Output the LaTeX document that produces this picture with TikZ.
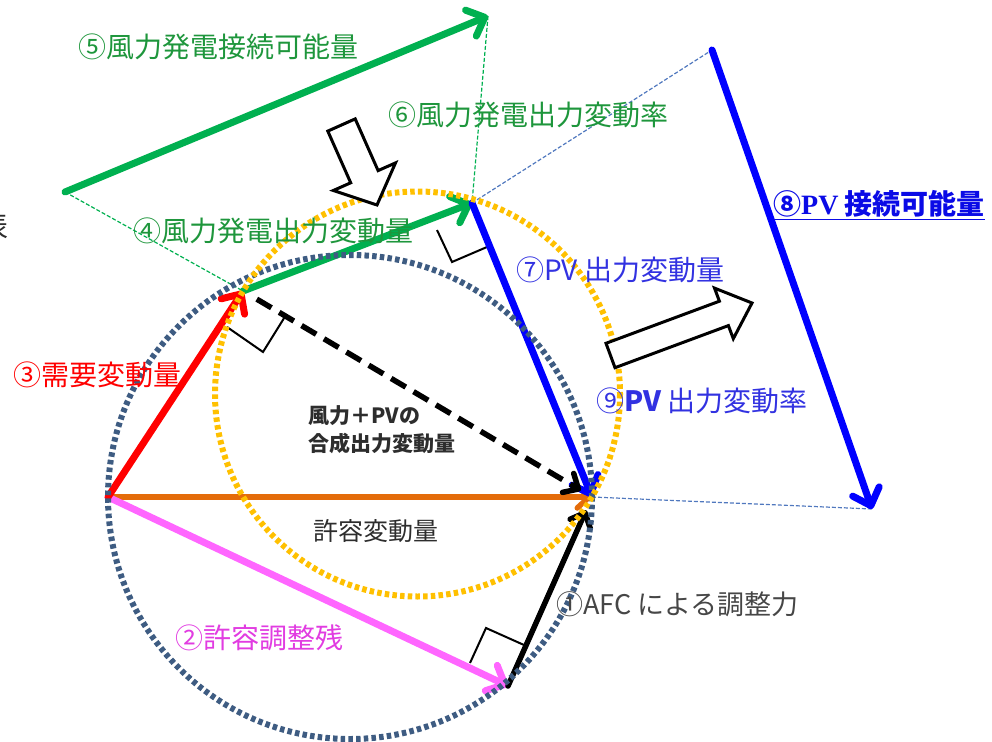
\documentclass[tikz,border=0pt]{standalone}
\usepackage{fontspec}
\setmainfont{Noto Sans CJK JP}
\newfontfamily\tms{Liberation Serif}
\usetikzlibrary{arrows.meta,calc}
\definecolor{garrow}{RGB}{0,176,80}
\definecolor{gtext}{RGB}{30,150,60}
\definecolor{bline}{RGB}{0,0,255}
\definecolor{btext}{RGB}{50,50,225}
\definecolor{bbold}{RGB}{10,10,230}
\definecolor{orng}{RGB}{228,108,10}
\definecolor{pnk}{RGB}{255,102,255}
\definecolor{mtext}{RGB}{225,60,225}
\definecolor{slate}{RGB}{62,92,130}
\definecolor{ylw}{RGB}{255,192,0}
\definecolor{thinb}{RGB}{80,120,190}
\definecolor{dgray}{RGB}{45,45,45}
\definecolor{mgray}{RGB}{70,70,70}
\begin{document}
\begin{tikzpicture}[x=1pt,y=-1pt,
  vec/.style={line width=7pt,line cap=round,-{Straight Barb[round,length=15pt,width=28pt]}},
  thinvec/.style={line width=5.5pt,line cap=round,-{Straight Barb[round,length=12pt,width=22pt]}},
  guide/.style={line width=1.2pt,dash pattern=on 4pt off 2pt},
  dotcirc/.style={line width=6pt,dash pattern=on 4.5pt off 3.2pt},
  rmark/.style={line width=2pt,black,line join=miter},
  blockarrow/.style={line width=3pt,black,fill=white,line join=miter},
  txt/.style={inner sep=0pt,anchor=west,font=\fontsize{28}{34}\selectfont}]
\useasboundingbox (0,0) rectangle (992,741);

% key points
\coordinate (O) at (108,497);
\coordinate (E) at (592,497);
\coordinate (R) at (243,291);
\coordinate (W) at (472,203);
\coordinate (P) at (508,686);
\coordinate (G1) at (65,192);
\coordinate (G2) at (488,16);
\coordinate (B1) at (712,50);
\coordinate (B2) at (872,509);
\coordinate (Cd) at (350,497);
\coordinate (Cy) at (417.5,394);

% thin guide lines
\draw[guide,garrow] (G1) -- (R);
\draw[guide,garrow] (G2) -- (W);
\draw[guide,thinb] (W) -- (B1);
\draw[guide,thinb] (E) -- (B2);

% right angle marks
\draw[rmark] (437,230) -- (452,262) -- (487,247);
\draw[rmark] (227,327) -- (263,352) -- (286,315);
\draw[rmark] (470,663) -- (486,628) -- (524,645);

% vectors
\draw[vec,garrow] (G1) -- (G2);
\draw[vec,bline] (B1) -- (B2);
\draw[thinvec,orng] (O) -- (E);
\draw[vec,pnk] (O) -- (P);
\draw[thinvec,black] (P) -- ($(P)!0.93!(E)$);
\draw[vec,red] (O) -- (R);
\draw[vec,garrow] (R) -- (W);
\draw[vec,bline] (W) -- (E);
\draw[line width=5.5pt,black,dash pattern=on 17pt off 9pt,-{Straight Barb[round,length=12pt,width=22pt]}]
  ($(R)!16pt!(E)$) -- ($(E)!13pt!(R)$);

% dotted circles
\draw[dotcirc,slate] (Cd) circle[radius=242];
\draw[dotcirc,ylw] (Cy) circle[radius=202.5];

% block arrows
\draw[blockarrow] (327.8,131.1) -- (350.7,182.8) -- (333.3,190.5) -- (377,205)
  -- (395.5,162.9) -- (378.1,170.6) -- (355.2,118.9) -- cycle;
\draw[blockarrow] (606,343.3) -- (719.4,301.2) -- (714.5,288.1) -- (752,303)
  -- (733.3,338.7) -- (728.4,325.6) -- (615,367.7) -- cycle;

% labels
\node[txt,text=gtext] (t5) at (78,47) {⑤風力発電接続可能量};
\node[txt,text=gtext] (t6) at (388,115) {⑥風力発電出力変動率};
\node[txt,text=gtext] (t4) at (133,231) {④風力発電出力変動量};
\node[txt,text=bbold] (t8) at (773,205) {\bfseries\underline{⑧{\tms PV} 接続可能量}};
\node[txt,text=btext] (t7) at (516,270) {⑦PV 出力変動量};
\node[txt,text=btext] (t9) at (596,401) {⑨{\bfseries PV} 出力変動率};
\node[txt,text=red] (t3) at (13,375) {③需要変動量};
\node[txt,text=dgray,align=left,font=\fontsize{21}{28}\selectfont\bfseries] (tc) at (308,430) {風力＋PVの\\合成出力変動量};
\node[txt,text=dgray,font=\fontsize{25}{30}\selectfont] (tk) at (313,531) {許容変動量};
\node[txt,text=mgray,font=\fontsize{27}{32}\selectfont] (t1) at (556,604) {①AFC による調整力};
\node[txt,text=mtext] (t2) at (175,638) {②許容調整残};
\node[inner sep=0pt,anchor=east,text=dgray,font=\fontsize{28}{34}\selectfont] (tl) at (9,226) {表};
\end{tikzpicture}
\end{document}
